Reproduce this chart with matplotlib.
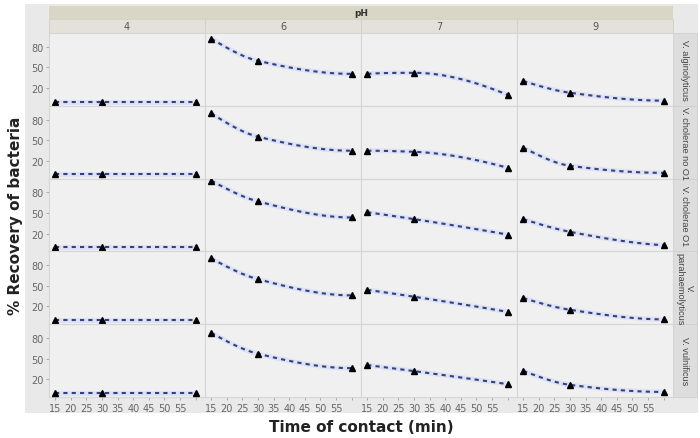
import numpy as np
import matplotlib
matplotlib.use("Agg")
import matplotlib.pyplot as plt
from matplotlib.patches import Rectangle

# data
times = [15, 30, 60]
ph_levels = ["4", "6", "7", "9"]
species = ["V. alginolyticus", "V. cholerae no O1", "V. cholerae O1",
           "V.\nparahaemolyticus", "V. vulnificus"]

ph4 = [[0, 0, 0], [0, 0, 0], [0, 0, 0], [0, 0, 0], [0, 0, 0]]
ph6 = [[91.7, 59.5, 40.5], [88.8, 55.0, 34.6], [97.0, 66.8, 43.4],
       [89.8, 59.5, 36.0], [87.3, 57.0, 36.0]]
ph7 = [[40.5, 42.0, 10.0], [34.6, 33.0, 9.8], [51.0, 41.0, 18.5],
       [44.0, 34.0, 12.0], [40.5, 31.7, 12.7]]
ph9 = [[30.0, 13.0, 1.5], [39.0, 12.7, 2.4], [41.0, 22.5, 3.0],
       [32.0, 15.0, 1.0], [32.0, 11.7, 1.4]]
series = [ph4, ph6, ph7, ph9]

y_ticks = [20, 50, 80]
x_ticks = [15, 20, 25, 30, 35, 40, 45, 50, 55, 60]
x_tick_labels = ["15", "20", "25", "30", "35", "40", "45", "50", "55", ""]


def pchip(x, y, xs):
	# monotone cubic smoother through the points
	x = np.asarray(x, float)
	y = np.asarray(y, float)
	h = np.diff(x)
	d = np.diff(y) / h
	n = len(x)
	m = np.zeros(n)
	for k in range(1, n - 1):
		if d[k - 1] * d[k] > 0:
			w1 = 2 * h[k] + h[k - 1]
			w2 = h[k] + 2 * h[k - 1]
			m[k] = (w1 + w2) / (w1 / d[k - 1] + w2 / d[k])
	def end_slope(h0, h1, d0, d1):
		s = ((2 * h0 + h1) * d0 - h0 * d1) / (h0 + h1)
		if np.sign(s) != np.sign(d0):
			return 0.0
		if np.sign(d0) != np.sign(d1) and abs(s) > abs(3 * d0):
			return 3 * d0
		return s
	m[0] = end_slope(h[0], h[1], d[0], d[1])
	m[-1] = end_slope(h[-1], h[-2], d[-1], d[-2])
	out = np.empty_like(xs, dtype=float)
	for i, xv in enumerate(xs):
		k = min(np.searchsorted(x, xv, side="right") - 1, n - 2)
		k = max(k, 0)
		t = (xv - x[k]) / h[k]
		h00 = 2 * t**3 - 3 * t**2 + 1
		h10 = t**3 - 2 * t**2 + t
		h01 = -2 * t**3 + 3 * t**2
		h11 = t**3 - t**2
		out[i] = h00 * y[k] + h10 * h[k] * m[k] + h01 * y[k + 1] + h11 * h[k] * m[k + 1]
	return out


W, H = 700, 439
fig = plt.figure(figsize=(7, 4.39), dpi=100)
fig.patch.set_facecolor("white")

# outer gray frame
fig.patches.append(Rectangle((25 / W, 1 - 414 / H), (698 - 25) / W, (414 - 5) / H,
                             transform=fig.transFigure, facecolor="#e9e9e9",
                             edgecolor="none", zorder=-10))

left, right = 49 / W, 673 / W
top, bottom = 1 - 34 / H, 1 - 398 / H
axes = fig.subplots(5, 4, sharex=True, sharey=True,
                    gridspec_kw=dict(left=left, right=right, top=top, bottom=bottom,
                                     wspace=0, hspace=0))

xs = np.linspace(15, 60, 120)
for c in range(4):
	for r in range(5):
		ax = axes[r, c]
		ax.set_facecolor("#f0f0f0")
		for sp in ax.spines.values():
			sp.set_color("#d6d6d6")
			sp.set_linewidth(0.8)
		vals = series[c][r]
		ys = pchip(times, vals, xs)
		ax.plot(xs, ys, color="#dde2f4", lw=3.5, zorder=2, solid_capstyle="round")
		ax.plot(xs, ys, color="#34407f", lw=1.5, ls=(0, (2, 2)), zorder=3)
		ax.plot(times, vals, ls="none", marker="^", ms=5, color="black", zorder=4)
		ax.set_xlim(13, 63)
		ax.set_ylim(-6, 100)
		ax.set_yticks(y_ticks)
		ax.set_xticks(x_ticks)
		ax.set_xticklabels(x_tick_labels)
		ax.tick_params(axis="both", colors="#a0a0a0", labelcolor="#666666",
		               labelsize=7, length=2.5, width=0.6, pad=1.5)
		if c > 0:
			ax.tick_params(axis="y", left=False)
		if r < 4:
			ax.tick_params(axis="x", bottom=False)

# column strips
strip_h1 = 13 / H
strip_y1 = 1 - 20 / H
fig.patches.append(Rectangle((left, strip_y1), right - left, strip_h1,
                             transform=fig.transFigure, facecolor="#d9d6c6",
                             edgecolor="none", zorder=-5))
fig.text((left + right) / 2, strip_y1 + strip_h1 / 2, "pH", ha="center", va="center",
         fontsize=6.5, fontweight="bold", color="#333333")
col_w = (right - left) / 4
strip_y2 = top
for c, lab in enumerate(ph_levels):
	x0 = left + c * col_w
	fig.patches.append(Rectangle((x0, strip_y2), col_w, strip_y1 - strip_y2,
	                             transform=fig.transFigure, facecolor="#e3e1d9",
	                             edgecolor="#d0cfc8", lw=0.6, zorder=-5))
	fig.text(x0 + col_w / 2, (strip_y1 + strip_y2) / 2, lab, ha="center", va="center",
	         fontsize=7, color="#555555")

# row strips
row_h = (top - bottom) / 5
sx0 = right
sw = (697 - 673) / W
for r, lab in enumerate(species):
	y0 = top - (r + 1) * row_h
	fig.patches.append(Rectangle((sx0, y0), sw, row_h, transform=fig.transFigure,
	                             facecolor="#dddddd", edgecolor="#cfcfcf", lw=0.6,
	                             zorder=-5))
	fig.text(sx0 + sw / 2, y0 + row_h / 2, lab, ha="center", va="center",
	         rotation=-90, fontsize=6.6, family="Liberation Sans", color="#444444",
	         linespacing=1.1)

fig.text(16 / W, (top + bottom) / 2, "% Recovery of bacteria", rotation=90,
         ha="center", va="center", fontsize=11, fontweight="bold", color="#222222")
fig.text((left + right) / 2, 1 - 428 / H, "Time of contact (min)", ha="center",
         va="center", fontsize=11, fontweight="bold", color="#222222")

fig.savefig("out.png", dpi=100, facecolor=fig.get_facecolor())
